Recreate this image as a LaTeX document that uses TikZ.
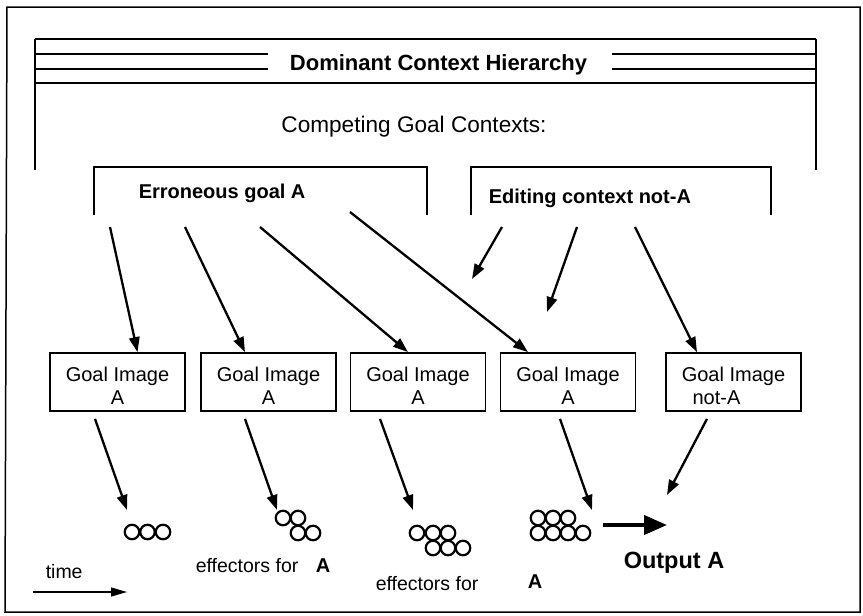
\documentclass[tikz,border=0pt]{standalone}
\usepackage{fontspec}
\setmainfont{Liberation Sans}
\usetikzlibrary{arrows.meta}

\begin{document}
\begin{tikzpicture}[x=1pt,y=-1pt,
  line width=1.5pt,
  goal node/.style={draw,line width=1.8pt,minimum width=135pt,minimum height=58pt,inner sep=0pt,align=center,font=\fontsize{20}{23}\selectfont},
  text node/.style={inner sep=0pt,anchor=base west,font=\fontsize{19.5}{23}\selectfont},
  bold node/.style={text node,font=\fontsize{20}{24}\selectfont\bfseries},
  arrow/.style={-{Triangle[length=15pt,width=10.5pt]},line width=2.3pt},
  effector/.style={circle,draw,line width=2.2pt,minimum size=14.5pt,inner sep=0pt}]

  \useasboundingbox (0,0) rectangle (863,616);

  % frame and header
  \draw (7,7) -- (860,7) -- (860,612) -- (5,612) -- cycle;
  \node[inner sep=0pt,anchor=base,font=\fontsize{22}{26}\selectfont\bfseries] (title) at (438.5,70) {Dominant Context Hierarchy};
  \draw[line width=2.8pt] (35,39) -- (816,39) (35,83) -- (816,83);
  \draw[line width=2.8pt] (35,54) -- (268,54) (612,54) -- (816,54);
  \draw[line width=2.8pt] (35,69) -- (268,69) (612,69) -- (816,69);
  \draw (35,39) -- (35,170) (816,39) -- (816,170);
  \node[inner sep=0pt,anchor=base,font=\fontsize{22.6}{26}\selectfont] (competing) at (414,132) {Competing Goal Contexts:};

  % competing contexts
  \draw[line width=2.2pt] (94,215) -- (94,167) -- (427,167) -- (427,215);
  \draw[line width=2.2pt] (471,215) -- (471,167) -- (771,167) -- (771,215);
  \node[bold node] (erroneous) at (138,198) {Erroneous goal A};
  \node[bold node] (editing) at (488,203) {Editing context not-A};

  % goal images
  \node[goal node] (g1) at (117.5,382) {\rule{0pt}{22pt}Goal Image\\A};
  \node[goal node] (g2) at (268.5,382) {\rule{0pt}{22pt}Goal Image\\A};
  \node[goal node] (g3) at (418,382) {\rule{0pt}{22pt}Goal Image\\A};
  \node[goal node] (g4) at (568,382) {\rule{0pt}{22pt}Goal Image\\A};
  \node[goal node] (g5) at (733.5,382) {\rule{0pt}{22pt}Goal Image\\not-A\hspace*{34pt}};

  \coordinate (a1) at (110,227);
  \coordinate (a2) at (185,227);
  \coordinate (a3) at (260,227);
  \coordinate (a4) at (350,212);
  \coordinate (b1) at (502,227);
  \coordinate (b2) at (577,227);
  \coordinate (b3) at (635,227);
  \coordinate (f1) at (472,279);
  \coordinate (f2) at (547,312);

  \path[arrow]
   (a1) edge ([xshift=20pt]g1.north)
   (a2) edge ([xshift=-23.5pt]g2.north)
   (a3) edge ([xshift=-10pt]g3.north)
   (a4) edge ([xshift=-40pt]g4.north)
   (b1) edge (f1)
   (b2) edge (f2)
   (b3) edge ([xshift=-36.5pt]g5.north);

  % effectors
  \foreach \x in {132,147.5,163}
    \node[effector] at (\x,532) {};
  \foreach \x/\y in {283/518,298/518,298/533,313/533}
    \node[effector] at (\x,\y) {};
  \foreach \x/\y in {417/533,433/533,448/533,433/548,448/548,463/548}
    \node[effector] at (\x,\y) {};
  \foreach \x/\y in {538/518,553/518,568/518,538/533,553/533,568/533,583/533}
    \node[effector] at (\x,\y) {};

  \coordinate (e1) at (127,510);
  \coordinate (e2) at (277,510);
  \coordinate (e3) at (413,510);
  \coordinate (e4) at (592,510);
  \coordinate (e5) at (667,495);
  \coordinate (o1) at (603,525);
  \coordinate (o2) at (667,525);

  \path[arrow]
   ([xshift=-22.5pt,yshift=-7pt]g1.south) edge (e1)
   ([xshift=-23.5pt,yshift=-7pt]g2.south) edge (e2)
   ([xshift=-38pt,yshift=-7pt]g3.south) edge (e3)
   ([xshift=-8pt,yshift=-7pt]g4.south) edge (e4)
   ([xshift=-26.5pt,yshift=-7pt]g5.south) edge (e5);
  \draw[-{Triangle[length=23pt,width=19pt]},line width=4pt] (o1) -- (o2);

  % labels
  \node[text node] (eff1) at (195,572) {effectors for};
  \node[bold node] (effa1) at (315,572) {A};
  \node[text node] (eff2) at (375,590) {effectors for};
  \node[bold node] (effa2) at (527,588) {A};
  \node[bold node,font=\fontsize{23.5}{28}\selectfont\bfseries] (output) at (623,568) {Output A};
  \node[text node] (time) at (45,578) {time};
  \coordinate (t1) at (33,592);
  \coordinate (t2) at (127,592);
  \draw[-{Triangle[length=16pt,width=9pt]},line width=1.3pt] (t1) -- (t2);
\end{tikzpicture}
\end{document}
